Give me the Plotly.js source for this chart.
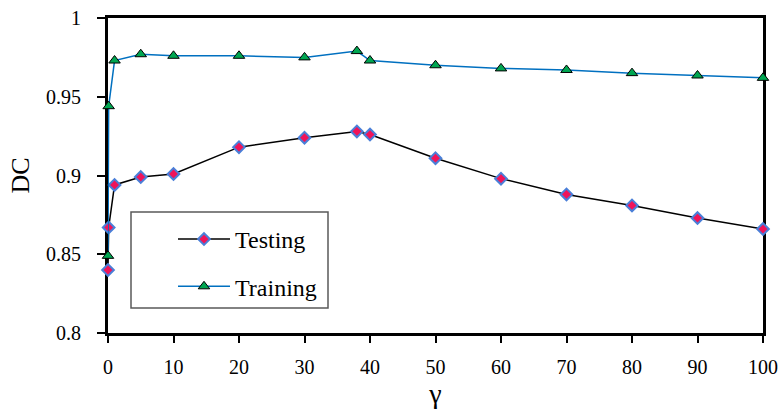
<!DOCTYPE html>
<html>
<head>
<meta charset="utf-8">
<script src="https://cdn.plot.ly/plotly-3.0.1.min.js"></script>
<style>
  html, body { margin: 0; padding: 0; background: #fff; }
  #chart { width: 782px; height: 414px; }
</style>
</head>
<body>
<div id="chart"></div>
<script>
// γ values and DC scores for both series
const gamma = [0, 0.1, 1, 5, 10, 20, 30, 38, 40, 50, 60, 70, 80, 90, 100];
const testingDC = [0.840, 0.867, 0.894, 0.899, 0.901, 0.918, 0.924, 0.928, 0.926, 0.911, 0.898, 0.888, 0.881, 0.873, 0.866];
const trainingDC = [0.849, 0.944, 0.973, 0.977, 0.976, 0.976, 0.975, 0.979, 0.973, 0.970, 0.968, 0.967, 0.965, 0.9635, 0.962];
const xTicks = [0, 10, 20, 30, 40, 50, 60, 70, 80, 90, 100];
const yTicks = [0.8, 0.85, 0.9, 0.95, 1];
const yTickText = ['0.8', '0.85', '0.9', '0.95', '1'];

const serif = '"Liberation Serif", "Times New Roman", Times, serif';

const traces = [
  {
    x: gamma, y: testingDC, name: 'Testing', type: 'scatter', mode: 'lines+markers',
    legendgroup: 'a', cliponaxis: false,
    line: { color: '#000000', width: 1.5 },
    marker: { symbol: 'diamond', size: 9, color: '#f0145a', line: { color: '#4a7fd8', width: 2 } }
  },
  {
    x: gamma, y: trainingDC, name: 'Training', type: 'scatter', mode: 'lines+markers',
    legendgroup: 'b', cliponaxis: false,
    line: { color: '#0070c0', width: 1.5 },
    marker: { symbol: 'triangle-up', size: 10, color: '#00a651', line: { color: '#000000', width: 1 } }
  }
];

// shared axis styling; the overlay axes add the inward half of each cross tick
const xBase = { range: [0, 100], tickmode: 'array', tickvals: xTicks, showgrid: false, zeroline: false };
const yBase = { range: [0.8, 1], tickmode: 'array', tickvals: yTicks, showgrid: false, zeroline: false };

const layout = {
  width: 782, height: 414,
  margin: { l: 108, r: 19, t: 18, b: 81 },
  paper_bgcolor: '#ffffff', plot_bgcolor: '#ffffff',
  font: { family: serif, color: '#000000', size: 20 },
  showlegend: true,
  xaxis: Object.assign({}, xBase, {
    ticktext: xTicks.map(String),
    showline: true, linecolor: '#000000', linewidth: 3, mirror: true,
    ticks: 'outside', ticklen: 7, tickwidth: 2, tickcolor: '#000000',
    ticklabelstandoff: 7,
    tickfont: { family: serif, size: 20, color: '#000000' },
    layer: 'below traces',
    title: { text: 'γ', font: { family: serif, size: 28, color: '#000000' }, standoff: 2 }
  }),
  yaxis: Object.assign({}, yBase, {
    ticktext: yTickText,
    showline: true, linecolor: '#000000', linewidth: 3, mirror: true,
    ticks: 'outside', ticklen: 8, tickwidth: 2, tickcolor: '#000000',
    ticklabelstandoff: 12,
    tickfont: { family: serif, size: 20, color: '#000000' },
    layer: 'below traces',
    title: { text: 'DC', font: { family: serif, size: 26, color: '#000000' }, standoff: 9 }
  }),
  xaxis2: Object.assign({}, xBase, {
    overlaying: 'x', anchor: 'y', side: 'bottom', showticklabels: false,
    ticks: 'inside', ticklen: 7, tickwidth: 2, tickcolor: '#000000', showline: false
  }),
  yaxis2: Object.assign({}, yBase, {
    overlaying: 'y', anchor: 'x', side: 'left', showticklabels: false,
    ticks: 'inside', ticklen: 7, tickwidth: 2, tickcolor: '#000000', showline: false
  }),
  legend: {
    x: (173 - 108) / 655, y: (333 - 217) / 315, xanchor: 'left', yanchor: 'top',
    bgcolor: 'rgba(0,0,0,0)', borderwidth: 0,
    traceorder: 'grouped', tracegroupgap: 13,
    itemwidth: 52,
    font: { family: serif, size: 24, color: '#000000' }
  },
  shapes: [
    { type: 'rect', xref: 'paper', yref: 'paper', layer: 'below',
      x0: (131 - 108) / 655, x1: (328 - 108) / 655,
      y0: (333 - 308) / 315, y1: (333 - 212) / 315,
      line: { color: '#595959', width: 1.5 }, fillcolor: '#ffffff' }
  ]
};

Plotly.newPlot('chart', traces, layout, { staticPlot: true, displayModeBar: false });
</script>
</body>
</html>
